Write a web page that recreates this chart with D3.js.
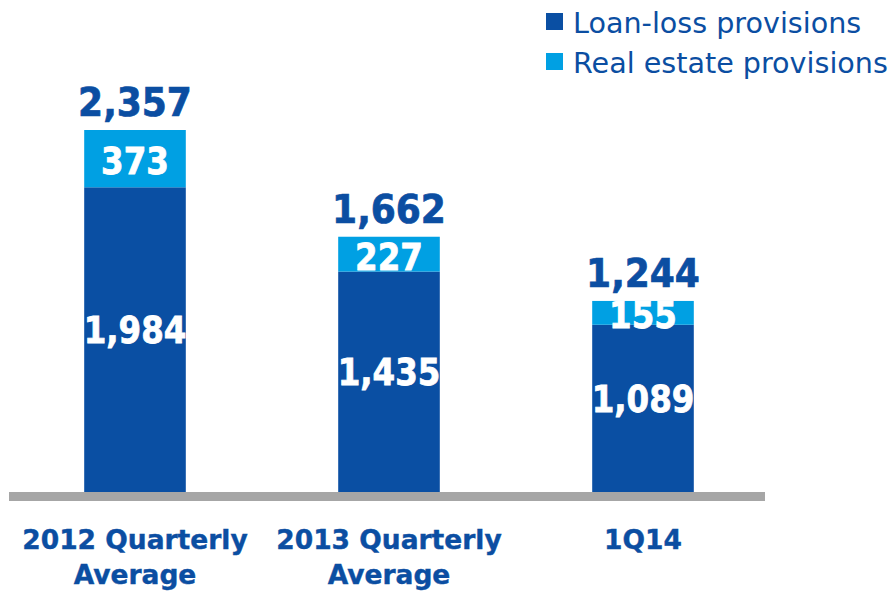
<!DOCTYPE html>
<html>
<head>
<meta charset="utf-8">
<script src="https://cdn.jsdelivr.net/npm/d3@7"></script>
<style>
	body { margin: 0; background: #fff; }
	svg { display: block; }
	.num { font-family: "DejaVu Sans", sans-serif; font-weight: bold; }
	.cat { font-family: "DejaVu Sans", sans-serif; font-weight: bold; }
	.leg { font-family: "DejaVu Sans", sans-serif; }
</style>
</head>
<body>
<div id="chart"></div>
<script>
var categories = [["2012 Quarterly", "Average"], ["2013 Quarterly", "Average"], ["1Q14"]];
var loanLoss = [1984, 1435, 1089];
var realEstate = [373, 227, 155];
var totals = [2357, 1662, 1244];
var seriesNames = ["Loan-loss provisions", "Real estate provisions"];

var W = 893, H = 592,
	darkBlue = "#0a4fa3",	/*loan-loss*/
	lightBlue = "#00a0e3",	/*real estate*/
	textBlue = "#0b4ea2",
	gray = "#a6a6a6";

var svg = d3.select("#chart").append("svg")
	.attr("width", W)
	.attr("height", H);

var x = d3.scaleBand()
	.domain(d3.range(categories.length))
	.range([8, 770])
	.paddingInner(0.6)
	.paddingOuter(0.3);

var y = d3.scaleLinear()
	.domain([0, 2357])
	.range([492, 130]);

var fmt = d3.format(",");

// stacked data
var stacked = d3.stack().keys([0, 1])
	.value(function (d, k) { return k === 0 ? d.loan : d.real; })(
		loanLoss.map(function (v, i) { return { i: i, loan: v, real: realEstate[i] }; })
	);

var colors = [darkBlue, lightBlue];

var g = svg.append("g");

stacked.forEach(function (layer, li) {
	g.selectAll(".seg" + li)
		.data(layer)
		.enter().append("rect")
		.attr("x", function (d) { return x(d.data.i); })
		.attr("y", function (d) { return y(d[1]); })
		.attr("width", x.bandwidth())
		.attr("height", function (d) { return y(d[0]) - y(d[1]); })
		.attr("fill", colors[li]);
});

// baseline
svg.append("rect")
	.attr("x", 9)
	.attr("y", y(0))
	.attr("width", 756)
	.attr("height", 9)
	.attr("fill", gray);

// number label, anchored at (cx, base) where base is the text baseline
function numLabel(cx, base, txt, fill, size, stretch) {
	g.append("text")
		.attr("class", "num")
		.attr("transform", "translate(" + cx + "," + base + ") scale(1," + stretch + ")")
		.attr("text-anchor", "middle")
		.attr("font-size", size)
		.attr("fill", fill)
		.attr("stroke", fill)
		.attr("stroke-width", 0.7)
		.text(txt);
}

var inSize = 32.5, inStretch = 1.14,
	capH = inSize * 0.729 * inStretch;

stacked[0].forEach(function (d) {
	var mid = (y(d[0]) + y(d[1])) / 2 - 10;
	numLabel(x(d.data.i) + x.bandwidth() / 2, mid + capH / 2, fmt(d.data.loan), "#fff", inSize, inStretch);
});

stacked[1].forEach(function (d) {
	var mid = (y(d[0]) + y(d[1])) / 2 + 2;
	numLabel(x(d.data.i) + x.bandwidth() / 2, mid + capH / 2, fmt(d.data.real), "#fff", inSize, inStretch);
});

totals.forEach(function (d, i) {
	numLabel(x(i) + x.bandwidth() / 2, y(d) - 14, fmt(d), textBlue, 36, 1.07);
});

// category labels
categories.forEach(function (lines, i) {
	var t = svg.append("text")
		.attr("class", "cat")
		.attr("text-anchor", "middle")
		.attr("font-size", 26.5)
		.attr("fill", textBlue)
		.attr("stroke", textBlue)
		.attr("stroke-width", 0.4);
	lines.forEach(function (line, j) {
		t.append("tspan")
			.attr("x", x(i) + x.bandwidth() / 2)
			.attr("y", 549 + j * 35)
			.text(line);
	});
});

// legend
var leg = svg.append("g").attr("transform", "translate(546,13)");
seriesNames.forEach(function (name, i) {
	leg.append("rect")
		.attr("x", 0)
		.attr("y", i * 40)
		.attr("width", 17)
		.attr("height", 17)
		.attr("fill", colors[i]);
	leg.append("text")
		.attr("class", "leg")
		.attr("x", 27)
		.attr("y", i * 40 + 20)
		.attr("font-size", 28.6)
		.attr("fill", textBlue)
		.text(name);
});
</script>
</body>
</html>
